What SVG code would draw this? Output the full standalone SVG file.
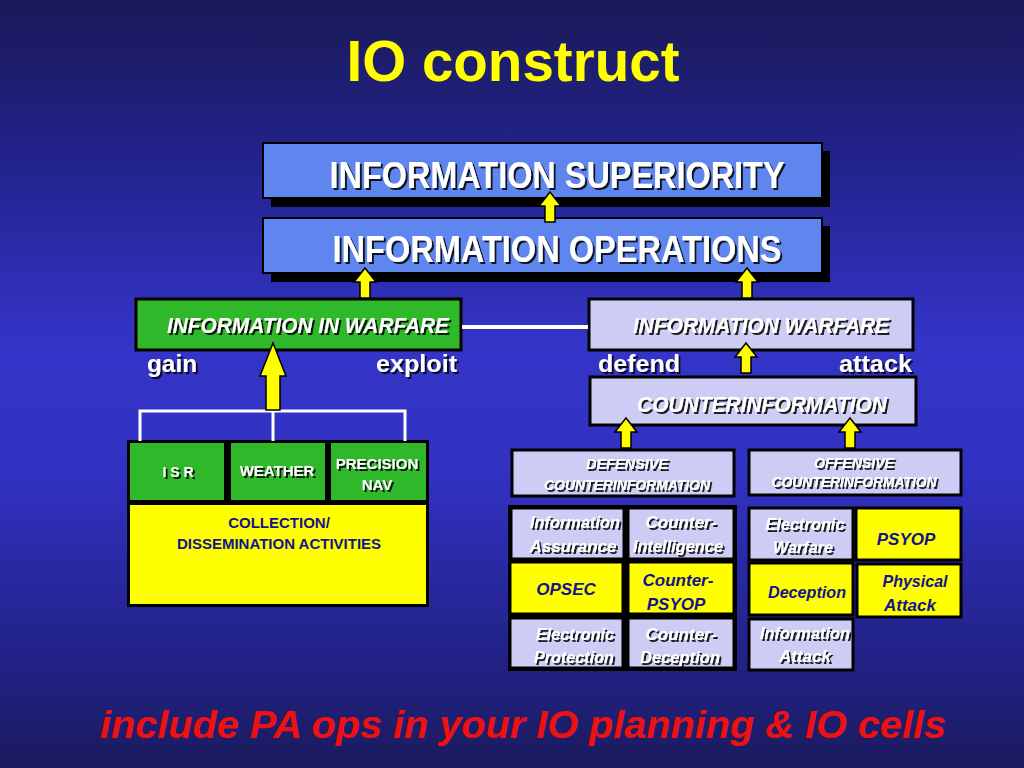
<svg xmlns="http://www.w3.org/2000/svg" xmlns:xlink="http://www.w3.org/1999/xlink" width="1024" height="768" viewBox="0 0 1024 768">
<defs>
<linearGradient id="bg" x1="0" y1="0" x2="0" y2="1">
<stop offset="0" stop-color="#1a1a58"/>
<stop offset="0.2" stop-color="#22228a"/>
<stop offset="0.45" stop-color="#3434c8"/>
<stop offset="0.62" stop-color="#3131c2"/>
<stop offset="0.85" stop-color="#222288"/>
<stop offset="1" stop-color="#1b1b5e"/>
</linearGradient>
<filter id="ts" x="-10%" y="-30%" width="120%" height="160%">
<feDropShadow dx="2" dy="2" stdDeviation="0.6" flood-color="#000" flood-opacity="0.85"/>
</filter>
<path id="arr" d="M0,0 L11,14 L5,14 L5,30 L-5,30 L-5,14 L-11,14 Z"/>
<style>
.f{font-family:"Liberation Sans",Arial,sans-serif;font-weight:bold}
.w{fill:#fff}
.n{fill:#14148a}
.it{font-style:italic}
.blu{fill:#5f86ef;stroke:#000;stroke-width:2}
.grn{fill:#2fb82a;stroke:#000;stroke-width:3}
.lav{fill:#ccccf5;stroke:#000;stroke-width:3}
.yel{fill:#ffff00;stroke:#000;stroke-width:3}
.sh{filter:url(#ts)}
.ar{fill:#ffff00;stroke:#000;stroke-width:1.5}
.wl{stroke:#fff;fill:none}
</style>
</defs>
<rect width="1024" height="768" fill="url(#bg)"/>

<text class="f" x="513" y="81" font-size="58" fill="#ffff00" text-anchor="middle" textLength="333" lengthAdjust="spacingAndGlyphs">IO construct</text>

<g id="n-superiority">
<rect x="271" y="151" width="559" height="56" fill="#000"/>
<rect class="blu" x="263" y="143" width="559" height="55"/>
<text class="f w sh" x="557" y="188" font-size="37" text-anchor="middle" textLength="455" lengthAdjust="spacingAndGlyphs">INFORMATION SUPERIORITY</text>
</g>

<g id="n-operations">
<rect x="271" y="226" width="559" height="56" fill="#000"/>
<rect class="blu" x="263" y="218" width="559" height="55"/>
<text class="f w sh" x="557" y="262" font-size="37" text-anchor="middle" textLength="449" lengthAdjust="spacingAndGlyphs">INFORMATION OPERATIONS</text>
</g>

<g id="n-iiw">
<rect class="grn" x="136" y="299" width="325" height="51"/>
<text class="f w it sh" x="308" y="333" font-size="22" text-anchor="middle" textLength="282" lengthAdjust="spacingAndGlyphs">INFORMATION IN WARFARE</text>
<text class="f w sh" x="147" y="372" font-size="24" textLength="50" lengthAdjust="spacingAndGlyphs">gain</text>
<text class="f w sh" x="457" y="372" font-size="24" text-anchor="end" textLength="81" lengthAdjust="spacingAndGlyphs">exploit</text>
</g>

<g id="n-iw">
<rect class="lav" x="589" y="299" width="324" height="51"/>
<text class="f w it sh" x="761" y="333" font-size="22" text-anchor="middle" textLength="256" lengthAdjust="spacingAndGlyphs">INFORMATION WARFARE</text>
<text class="f w sh" x="598" y="372" font-size="24" textLength="82" lengthAdjust="spacingAndGlyphs">defend</text>
<text class="f w sh" x="912" y="372" font-size="24" text-anchor="end" textLength="73" lengthAdjust="spacingAndGlyphs">attack</text>
</g>

<g id="n-counterinfo">
<rect class="lav" x="590" y="377" width="326" height="48"/>
<text class="f w it sh" x="762" y="412" font-size="22" text-anchor="middle" textLength="250" lengthAdjust="spacingAndGlyphs">COUNTERINFORMATION</text>
</g>

<g id="n-defensive">
<rect class="lav" x="512" y="450" width="222" height="46"/>
<text class="f w it sh" x="627" y="469" font-size="14" text-anchor="middle" textLength="82" lengthAdjust="spacingAndGlyphs">DEFENSIVE</text>
<text class="f w it sh" x="627" y="490" font-size="14" text-anchor="middle" textLength="166" lengthAdjust="spacingAndGlyphs">COUNTERINFORMATION</text>
</g>

<g id="n-offensive">
<rect class="lav" x="749" y="450" width="212" height="45"/>
<text class="f w it sh" x="854" y="468" font-size="14" text-anchor="middle" textLength="80" lengthAdjust="spacingAndGlyphs">OFFENSIVE</text>
<text class="f w it sh" x="854" y="487" font-size="14" text-anchor="middle" textLength="165" lengthAdjust="spacingAndGlyphs">COUNTERINFORMATION</text>
</g>

<g id="n-def-grid">
<rect x="508" y="505" width="229" height="166" fill="#000"/>
</g>
<g id="n-info-assurance">
<rect class="lav" x="511" y="508" width="113" height="51"/>
<text class="f w it sh" x="575" y="528" font-size="17" text-anchor="middle" textLength="90" lengthAdjust="spacingAndGlyphs">Information</text>
<text class="f w it sh" x="573" y="552" font-size="17" text-anchor="middle">Assurance</text>
</g>
<g id="n-counter-intel">
<rect class="lav" x="628" y="508" width="106" height="51"/>
<text class="f w it sh" x="681" y="528" font-size="17" text-anchor="middle">Counter-</text>
<text class="f w it sh" x="678" y="552" font-size="17" text-anchor="middle" textLength="90" lengthAdjust="spacingAndGlyphs">Intelligence</text>
</g>
<g id="n-opsec">
<rect class="yel" x="510" y="562" width="113" height="52"/>
<text class="f n it" x="566" y="595" font-size="17" text-anchor="middle">OPSEC</text>
</g>
<g id="n-counter-psyop">
<rect class="yel" x="628" y="562" width="106" height="52"/>
<text class="f n it" x="678" y="586" font-size="17" text-anchor="middle">Counter-</text>
<text class="f n it" x="676" y="610" font-size="17" text-anchor="middle">PSYOP</text>
</g>
<g id="n-elec-protection">
<rect class="lav" x="510" y="618" width="113" height="50"/>
<text class="f w it sh" x="575" y="640" font-size="17" text-anchor="middle" textLength="78" lengthAdjust="spacingAndGlyphs">Electronic</text>
<text class="f w it sh" x="574" y="663" font-size="17" text-anchor="middle" textLength="80" lengthAdjust="spacingAndGlyphs">Protection</text>
</g>
<g id="n-counter-deception">
<rect class="lav" x="628" y="618" width="106" height="50"/>
<text class="f w it sh" x="681" y="640" font-size="17" text-anchor="middle">Counter-</text>
<text class="f w it sh" x="680" y="663" font-size="17" text-anchor="middle" textLength="80" lengthAdjust="spacingAndGlyphs">Deception</text>
</g>

<g id="n-elec-warfare">
<rect class="lav" x="749" y="508" width="104" height="52"/>
<text class="f w it sh" x="805" y="530" font-size="17" text-anchor="middle" textLength="79" lengthAdjust="spacingAndGlyphs">Electronic</text>
<text class="f w it sh" x="803" y="553" font-size="17" text-anchor="middle" textLength="60" lengthAdjust="spacingAndGlyphs">Warfare</text>
</g>
<g id="n-psyop">
<rect class="yel" x="856" y="508" width="105" height="52"/>
<text class="f n it" x="906" y="545" font-size="17" text-anchor="middle">PSYOP</text>
</g>
<g id="n-deception">
<rect class="yel" x="749" y="563" width="104" height="52"/>
<text class="f n it" x="807" y="598" font-size="17" text-anchor="middle" textLength="78" lengthAdjust="spacingAndGlyphs">Deception</text>
</g>
<g id="n-physical-attack">
<rect class="yel" x="857" y="564" width="104" height="53"/>
<text class="f n it" x="915" y="587" font-size="17" text-anchor="middle" textLength="65" lengthAdjust="spacingAndGlyphs">Physical</text>
<text class="f n it" x="910" y="611" font-size="17" text-anchor="middle">Attack</text>
</g>
<g id="n-info-attack">
<rect class="lav" x="749" y="619" width="104" height="51"/>
<text class="f w it sh" x="805" y="639" font-size="17" text-anchor="middle" textLength="90" lengthAdjust="spacingAndGlyphs">Information</text>
<text class="f w it sh" x="805" y="662" font-size="17" text-anchor="middle">Attack</text>
</g>

<g id="n-collection">
<rect x="127" y="440" width="302" height="167" fill="#000"/>
<rect x="130" y="443" width="94" height="57" fill="#2fb82a"/>
<rect x="231" y="443" width="94" height="57" fill="#2fb82a"/>
<rect x="331" y="443" width="95" height="57" fill="#2fb82a"/>
<rect x="130" y="505" width="296" height="99" fill="#ffff00"/>
<text class="f w sh" x="178" y="477" font-size="14" text-anchor="middle">I S R</text>
<text class="f w sh" x="277" y="476" font-size="15" text-anchor="middle">WEATHER</text>
<text class="f w sh" x="377" y="469" font-size="15" text-anchor="middle">PRECISION</text>
<text class="f w sh" x="377" y="490" font-size="15" text-anchor="middle">NAV</text>
<text class="f n" x="279" y="528" font-size="15" text-anchor="middle">COLLECTION/</text>
<text class="f n" x="279" y="549" font-size="15" text-anchor="middle">DISSEMINATION ACTIVITIES</text>
</g>

<g id="connectors">
<use xlink:href="#arr" x="550" y="192" class="ar"/>
<use xlink:href="#arr" x="365" y="268" class="ar"/>
<use xlink:href="#arr" x="747" y="268" class="ar"/>
<use xlink:href="#arr" x="746" y="343" class="ar"/>
<use xlink:href="#arr" x="626" y="418" class="ar"/>
<use xlink:href="#arr" x="850" y="418" class="ar"/>
<line class="wl" x1="462" y1="327" x2="588" y2="327" stroke-width="4"/>
<path class="wl" d="M140,441 V411 H405 V441 M273,411 V441" stroke-width="3"/>
<path class="ar" d="M273,343 L286,376 L280,376 L280,410 L266,410 L266,376 L260,376 Z"/>
</g>

<text class="f it" x="523" y="738" font-size="38" fill="#ee1111" text-anchor="middle" textLength="846" lengthAdjust="spacingAndGlyphs">include PA ops in your IO planning &amp; IO cells</text>
</svg>
